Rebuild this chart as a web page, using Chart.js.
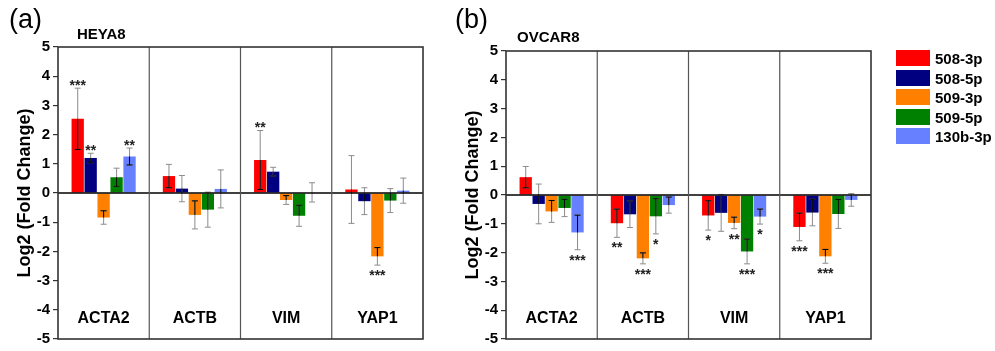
<!DOCTYPE html>
<html>
<head>
<meta charset="utf-8">
<script src="https://cdn.jsdelivr.net/npm/chart.js@4/dist/chart.umd.min.js"></script>
<style>
  body { margin: 0; background: #fff; font-family: Arial, "Liberation Sans", sans-serif; }
  #wrap { position: relative; width: 995px; height: 351px; overflow: hidden; }
  canvas { position: absolute; top: 0; }
  .lbl { position: absolute; color: #000; white-space: nowrap; }
  .panel { font-size: 27px; line-height: 27px; }
  .cell { font-size: 15px; font-weight: bold; line-height: 15px; }
  #legend { position: absolute; left: 896px; top: 50px; }
  #legend div { height: 19.5px; display: flex; align-items: flex-start; font-size: 15px; font-weight: bold; }
  #legend span.sw { display: inline-block; width: 34px; height: 16px; margin-right: 5px; }
</style>
</head>
<body>
<div id="wrap">
  <canvas id="chartA" width="430" height="351" style="left:0;width:430px;height:351px"></canvas>
  <canvas id="chartB" width="565" height="351" style="left:430px;width:565px;height:351px"></canvas>
  <div class="lbl panel" style="left:9px;top:6px">(a)</div>
  <div class="lbl panel" style="left:455px;top:6px">(b)</div>
  <div class="lbl cell" style="left:77px;top:26px">HEYA8</div>
  <div class="lbl cell" style="left:517px;top:29px">OVCAR8</div>
  <div id="legend"></div>
</div>
<script>
// genes on the x axis, microRNA series as datasets
const genes = ["ACTA2", "ACTB", "VIM", "YAP1"];
const series = ["508-3p", "508-5p", "509-3p", "509-5p", "130b-3p"];
const colors = ["#ff0000", "#000080", "#ff8000", "#008000", "#6680ff"];
const yTicks = [5, 4, 3, 2, 1, 0, -1, -2, -3, -4, -5];

// HEYA8 (panel a): one row per series, values per gene
const heyaValues = [
  [2.54, 0.58, 1.13, 0.12],
  [1.20, 0.15, 0.73, -0.28],
  [-0.84, -0.75, -0.24, -2.17],
  [0.54, -0.57, -0.78, -0.26],
  [1.25, 0.14, 0.02, 0.08]
];
const heyaErrors = [
  [1.05, 0.40, 1.01, 1.16],
  [0.16, 0.45, 0.15, 0.46],
  [0.23, 0.48, 0.15, 0.30],
  [0.31, 0.60, 0.36, 0.41],
  [0.29, 0.65, 0.33, 0.43]
];
const heyaStars = [
  ["***", "", "**", ""],
  ["**", "", "", ""],
  ["", "", "", "***"],
  ["", "", "", ""],
  ["**", "", "", ""]
];

// OVCAR8 (panel b)
const ovcarValues = [
  [0.62, -0.98, -0.71, -1.11],
  [-0.31, -0.67, -0.62, -0.61],
  [-0.57, -2.20, -0.97, -2.13],
  [-0.45, -0.74, -1.96, -0.66],
  [-1.30, -0.35, -0.75, -0.17]
];
const ovcarErrors = [
  [0.37, 0.49, 0.51, 0.48],
  [0.69, 0.46, 0.64, 0.46],
  [0.38, 0.19, 0.20, 0.24],
  [0.30, 0.61, 0.43, 0.50],
  [0.60, 0.28, 0.26, 0.22]
];
const ovcarStars = [
  ["", "**", "*", "***"],
  ["", "", "", ""],
  ["", "***", "**", "***"],
  ["", "*", "***", ""],
  ["***", "", "*", ""]
];

const FONT = "Arial, 'Liberation Sans', sans-serif";

// legend
const legend = document.getElementById("legend");
series.forEach((s, i) => {
  const row = document.createElement("div");
  row.innerHTML = `<span class="sw" style="background:${colors[i]}"></span>${s}`;
  legend.appendChild(row);
});

// draws frame, dividers, zero line, error bars, stars and gene names
function decorPlugin(errors, stars) {
  return {
    id: "decor",
    afterDatasetsDraw(chart) {
      const ctx = chart.ctx;
      const area = chart.chartArea;
      const y = chart.scales.y;
      const x = chart.scales.x;
      ctx.save();

      // error bars: grey outside the bar, black where they run over it
      chart.data.datasets.forEach((ds, di) => {
        const meta = chart.getDatasetMeta(di);
        meta.data.forEach((bar, gi) => {
          const v = ds.data[gi];
          const e = errors[di][gi];
          const yHi = y.getPixelForValue(v + e);
          const yLo = y.getPixelForValue(v - e);
          const drawErr = (color) => {
            ctx.strokeStyle = color;
            ctx.lineWidth = 1;
            ctx.beginPath();
            ctx.moveTo(bar.x, yHi); ctx.lineTo(bar.x, yLo);
            ctx.moveTo(bar.x - 3, yHi); ctx.lineTo(bar.x + 3, yHi);
            ctx.moveTo(bar.x - 3, yLo); ctx.lineTo(bar.x + 3, yLo);
            ctx.stroke();
          };
          drawErr("#8c8c8c");
          ctx.save();
          ctx.beginPath();
          const top = Math.min(bar.y, bar.base);
          ctx.rect(bar.x - bar.width / 2, top, bar.width, Math.abs(bar.base - bar.y));
          ctx.clip();
          drawErr("#000");
          ctx.restore();

          // significance stars
          const s = stars[di][gi];
          if (s) {
            ctx.fillStyle = "#222";
            ctx.font = "bold 14px " + FONT;
            ctx.textAlign = "center";
            ctx.textBaseline = "alphabetic";
            const cy = v >= 0 ? yHi - 6.5 : yLo + 7;
            ctx.fillText(s, bar.x, cy + 8);
          }
        });
      });

      // zero line
      const y0 = y.getPixelForValue(0);
      ctx.strokeStyle = "#000";
      ctx.lineWidth = 1.6;
      ctx.beginPath();
      ctx.moveTo(area.left, y0); ctx.lineTo(area.right, y0);
      ctx.stroke();

      // dividers between genes
      const step = (area.right - area.left) / genes.length;
      ctx.strokeStyle = "#555";
      ctx.lineWidth = 1.2;
      for (let i = 1; i < genes.length; i++) {
        const xx = area.left + step * i;
        ctx.beginPath();
        ctx.moveTo(xx, area.top); ctx.lineTo(xx, area.bottom);
        ctx.stroke();
      }

      // frame
      ctx.strokeStyle = "#333";
      ctx.lineWidth = 1.6;
      ctx.strokeRect(area.left, area.top, area.right - area.left, area.bottom - area.top);

      // gene names inside the plot
      ctx.fillStyle = "#000";
      ctx.font = "bold 16px " + FONT;
      ctx.textAlign = "center";
      ctx.textBaseline = "middle";
      genes.forEach((g, i) => {
        ctx.fillText(g, x.getPixelForValue(i), y.getPixelForValue(-4.3));
      });

      // axis title
      ctx.save();
      ctx.translate(chart.options.titleX, (area.top + area.bottom) / 2);
      ctx.rotate(-Math.PI / 2);
      ctx.font = "bold 18px " + FONT;
      ctx.textAlign = "center";
      ctx.textBaseline = "middle";
      ctx.fillText("Log2 (Fold Change)", 0, 0);
      ctx.restore();

      ctx.restore();
    }
  };
}

function makePanel(id, values, errors, stars, pad, axisWidth, titleX) {
  return new Chart(document.getElementById(id), {
    type: "bar",
    data: {
      labels: genes,
      datasets: series.map((s, i) => ({
        label: s,
        data: values[i],
        backgroundColor: colors[i],
        borderWidth: 0,
        categoryPercentage: 0.71,
        barPercentage: 0.95
      }))
    },
    options: {
      responsive: false,
      animation: false,
      titleX: titleX,
      layout: { padding: pad },
      plugins: { legend: { display: false }, tooltip: { enabled: false } },
      scales: {
        x: { display: false },
        y: {
          min: -5,
          max: 5,
          afterFit: (scale) => { scale.width = axisWidth; },
          afterBuildTicks: (scale) => { scale.ticks = yTicks.map(v => ({ value: v })); },
          border: { display: false },
          grid: { drawOnChartArea: false, drawTicks: true, tickLength: 5, color: "#333", lineWidth: 1.2 },
          ticks: {
            color: "#000",
            padding: 3,
            font: { size: 15, weight: "bold", family: FONT }
          }
        }
      }
    },
    plugins: [decorPlugin(errors, stars)]
  });
}

makePanel("chartA", heyaValues, heyaErrors, heyaStars,
  { left: 0, right: 7, top: 47, bottom: 9 }, 58, 25);
makePanel("chartB", ovcarValues, ovcarErrors, ovcarStars,
  { left: 0, right: 124, top: 51, bottom: 6 }, 76, 43);
</script>
</body>
</html>
